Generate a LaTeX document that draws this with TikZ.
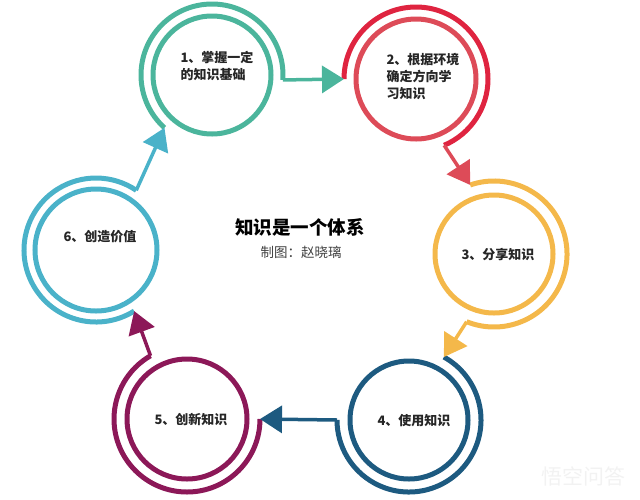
\documentclass[tikz,border=0pt]{standalone}
\usepackage{fontspec}
\setmainfont{Noto Sans CJK SC}
\usepackage{xcolor}
\usetikzlibrary{arrows.meta}

\definecolor{verde}{HTML}{4BB59C}
\definecolor{vermelho}{HTML}{DF2440}
\definecolor{rosado}{HTML}{DD4B58}
\definecolor{amarelo}{HTML}{F4B84A}
\definecolor{azulescuro}{HTML}{1D5A80}
\definecolor{roxo}{HTML}{8C1858}
\definecolor{azulclaro}{HTML}{4AB2C9}

\tikzset{
  anel/.style={draw=#1, circle, line width=5pt, inner sep=0pt},
  arco/.style={draw=#1, line width=5pt},
  seta/.style={draw=#1, fill=#1, line width=3.5pt, -{Triangle[length=22pt,width=27pt]}},
  rotulo/.style={font=\fontsize{13}{17}\selectfont\bfseries, align=left, text=black!85},
}

\begin{document}
\begin{tikzpicture}[x=1pt, y=1pt]
\useasboundingbox (0,0) rectangle (640,-499);

% Círculos internos
\node[anel=verde, minimum size=118pt] (c1) at (212,-75) {};
\node[anel=rosado, minimum size=120pt] (c2) at (416,-79) {};
\node[anel=amarelo, minimum size=118pt] (c3) at (494,-254) {};
\node[anel=azulescuro, minimum size=118pt] (c4) at (409,-420) {};
\node[anel=roxo, minimum size=120pt] (c5) at (187,-419) {};
\node[anel=azulclaro, minimum size=122pt] (c6) at (96,-250) {};

% Pontos de entrada e saída dos arcos externos
\coordinate (in1) at ([shift={(228:71)}]c1.center);
\coordinate (out1) at ([shift={(-4:71)}]c1.center);
\coordinate (in2) at ([shift={(180:72)}]c2.center);
\coordinate (out2) at ([shift={(-67:72)}]c2.center);
\coordinate (in3) at ([shift={(109:73)}]c3.center);
\coordinate (out3) at ([shift={(-112:73)}]c3.center);
\coordinate (in4) at ([shift={(61:72)}]c4.center);
\coordinate (out4) at ([shift={(-180:72)}]c4.center);
\coordinate (in5) at ([shift={(0:73)}]c5.center);
\coordinate (out5) at ([shift={(-240:73)}]c5.center);
\coordinate (in6) at ([shift={(-58:72)}]c6.center);
\coordinate (out6) at ([shift={(-304:72)}]c6.center);

% Arcos externos
\draw[arco=verde] (in1) arc[start angle=228, end angle=-4, radius=71];
\draw[arco=vermelho] (in2) arc[start angle=180, end angle=-67, radius=72];
\draw[arco=amarelo] (in3) arc[start angle=109, end angle=-112, radius=73];
\draw[arco=azulescuro] (in4) arc[start angle=61, end angle=-180, radius=72];
\draw[arco=roxo] (in5) arc[start angle=0, end angle=-240, radius=73];
\draw[arco=azulclaro] (in6) arc[start angle=-58, end angle=-304, radius=72];

% Setas entre os círculos
\draw[seta=verde] (out1) -- (in2);
\draw[seta=rosado] (out2) -- (in3);
\draw[seta=amarelo] (out3) -- (in4);
\draw[seta=azulescuro] (out4) -- (in5);
\draw[seta=roxo] (out5) -- (in6);
\draw[seta=azulclaro] (out6) -- (in1);

% Textos dos círculos
\node[rotulo, anchor=west] (t1) at (177,-66) {1、掌握一定\\的知识基础};
\node[rotulo, anchor=west] (t2) at (383,-76) {2、根据环境\\确定方向学\\习知识};
\node[rotulo] (t3) at (498,-255) {3、分享知识};
\node[rotulo] (t4) at (414,-421) {4、使用知识};
\node[rotulo] (t5) at (191,-419) {5、创新知识};
\node[rotulo] (t6) at (100,-237) {6、创造价值};

% Título central
\node[font=\fontsize{18.5}{20}\selectfont\bfseries] (titulo) at (300,-227) {知识是一个体系};
\node[font=\fontsize{13.5}{15}\selectfont, text=black!75] (autor) at (301,-252) {制图：赵晓璃};

% Marca d'água
\node[font=\fontsize{21}{22}\selectfont, text=black!5] (marca) at (583,-476) {悟空问答};

\end{tikzpicture}
\end{document}
